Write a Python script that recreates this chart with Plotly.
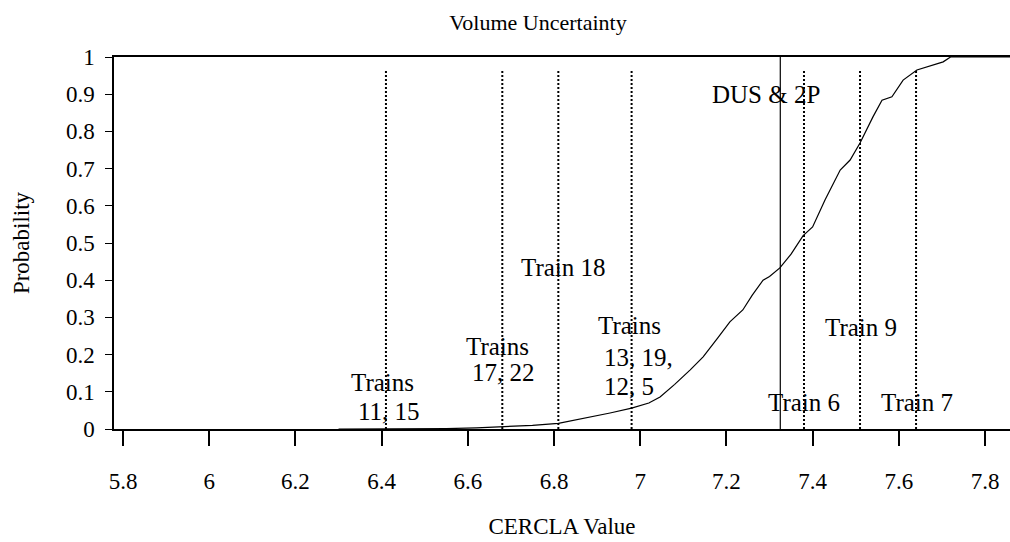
import plotly.graph_objects as go

# ---- data ----
cdf_x = [6.30, 6.45, 6.55, 6.62, 6.68, 6.75, 6.81, 6.87, 6.93, 6.98, 7.02, 7.046,
         7.08, 7.116, 7.146, 7.18, 7.208, 7.238, 7.26, 7.285, 7.30, 7.324, 7.35,
         7.378, 7.40, 7.429, 7.464, 7.487, 7.51, 7.54, 7.561, 7.584, 7.61, 7.642,
         7.672, 7.703, 7.72, 7.88]
cdf_y = [0.0, 0.0, 0.001, 0.003, 0.006, 0.010, 0.015, 0.028, 0.043, 0.056, 0.070, 0.086,
         0.120, 0.159, 0.194, 0.245, 0.288, 0.320, 0.360, 0.400, 0.410, 0.433, 0.470,
         0.520, 0.543, 0.616, 0.696, 0.723, 0.769, 0.839, 0.884, 0.893, 0.938, 0.965,
         0.976, 0.987, 1.0, 1.0]

train_x = [6.41, 6.68, 6.81, 6.98, 7.38, 7.51, 7.64]
dus_x = 7.325

label_text = ["Trains", "11, 15", "Trains", "17, 22", "Train 18", "Trains", "13, 19,",
              "12, 5", "DUS &amp; 2P", "Train 6", "Train 9", "Train 7"]
label_x = [6.403, 6.417, 6.668, 6.682, 6.821, 6.976, 6.997, 6.974, 7.292, 7.380, 7.512, 7.642]
label_y = [0.124, 0.048, 0.223, 0.151, 0.435, 0.277, 0.191, 0.113, 0.898, 0.070, 0.274, 0.070]

x_ticks = [5.8, 6.0, 6.2, 6.4, 6.6, 6.8, 7.0, 7.2, 7.4, 7.6, 7.8]
y_ticks = [0, 0.1, 0.2, 0.3, 0.4, 0.5, 0.6, 0.7, 0.8, 0.9, 1]

FONT = "Liberation Serif, Times New Roman, serif"
W, H = 1010, 542

fig = go.Figure()
fig.add_trace(go.Scatter(x=cdf_x, y=cdf_y, mode="lines",
                         line=dict(color="black", width=1.2), showlegend=False,
                         hoverinfo="skip"))

for tx in train_x:
    fig.add_shape(type="line", xref="x", yref="y", x0=tx, x1=tx, y0=0, y1=0.965,
                  line=dict(color="black", width=2, dash="2px,2px"))
fig.add_shape(type="line", xref="x", yref="y", x0=dus_x, x1=dus_x, y0=0, y1=1,
              line=dict(color="black", width=1.2))

for t, ax, ay in zip(label_text, label_x, label_y):
    fig.add_annotation(x=ax, y=ay, xref="x", yref="y", text=t, showarrow=False,
                       font=dict(family=FONT, size=25, color="black"),
                       xanchor="center", yanchor="middle")

fig.update_layout(
    width=W, height=H,
    margin=dict(l=114, r=0, t=57, b=113),
    paper_bgcolor="white", plot_bgcolor="white",
    font=dict(family=FONT, color="black", size=23),
    title=dict(text="Volume Uncertainty", x=538 / W, xanchor="center",
               y=1 - 22 / H, yanchor="middle",
               font=dict(family=FONT, size=22, color="black")),
    showlegend=False,
)
fig.update_xaxes(range=[5.779, 7.858], tickvals=x_ticks,
                 ticktext=[f"{v:g}" for v in x_ticks],
                 showgrid=False, zeroline=False, showline=True, linecolor="black",
                 linewidth=1.5, mirror=True, ticks="outside", ticklen=15, tickwidth=1.5,
                 tickcolor="black", ticklabelstandoff=16,
                 tickfont=dict(family=FONT, size=23, color="black"),
                 title=dict(text="CERCLA Value", standoff=25,
                            font=dict(family=FONT, size=23, color="black")))
fig.update_yaxes(range=[0, 1], tickvals=y_ticks,
                 ticktext=[f"{v:g}" for v in y_ticks],
                 showgrid=False, zeroline=False, showline=True, linecolor="black",
                 linewidth=1.5, ticks="outside", ticklen=7, tickwidth=1.2,
                 tickcolor="black", ticklabelstandoff=6,
                 tickfont=dict(family=FONT, size=23, color="black"),
                 title=dict(text="Probability", standoff=30,
                            font=dict(family=FONT, size=23, color="black")))

fig.write_html("out.html", config={"displayModeBar": False},
               post_script="document.body.style.margin='0';"
                           "document.body.style.overflow='hidden';")
